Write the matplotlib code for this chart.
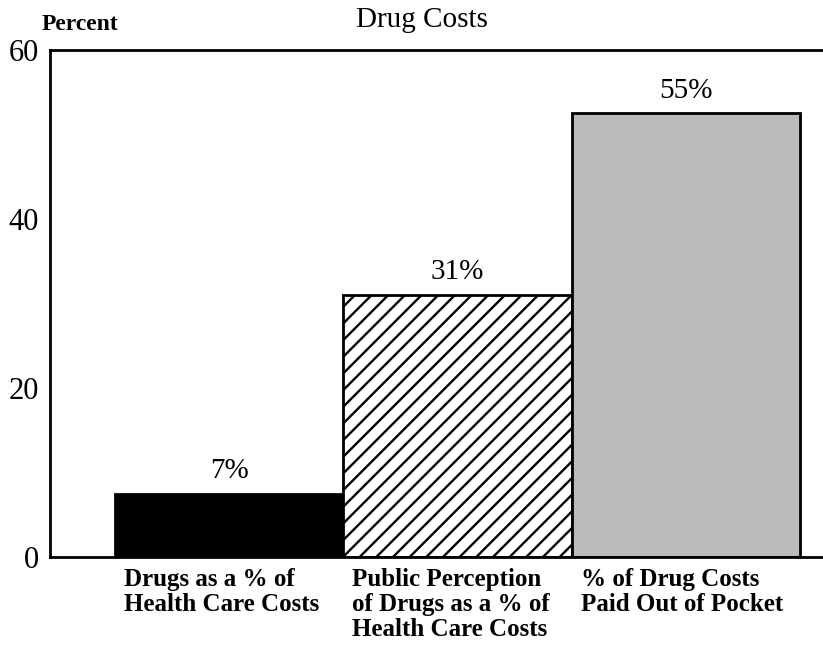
import matplotlib
matplotlib.use("Agg")
import matplotlib.pyplot as plt
from matplotlib.transforms import ScaledTranslation

categories = ["Drugs as a % of\nHealth Care Costs",
              "Public Perception\nof Drugs as a % of\nHealth Care Costs",
              "% of Drug Costs\nPaid Out of Pocket"]
heights = [7.5, 31.0, 52.5]
value_labels = ["7%", "31%", "55%"]
yticks = [0, 20, 40, 60]

plt.rcParams['font.family'] = ['Liberation Serif', 'DejaVu Serif']
plt.rcParams['hatch.linewidth'] = 1.7

fig = plt.figure(figsize=(8.23, 6.46), dpi=100)
ax = fig.add_axes([50/823, (646-557)/646, 1 - 50/823, (557-50)/646])

x = list(range(len(categories)))
styles = [dict(color='black', edgecolor='black'),
          dict(facecolor='white', edgecolor='black', hatch='//'),
          dict(facecolor='#bababa', edgecolor='black')]
for xi, h, st in zip(x, heights, styles):
    ax.bar(xi, h, width=1.0, linewidth=2, **st)

for xi, h, lab in zip(x, heights, value_labels):
    ax.annotate(lab, (xi, h), xytext=(0, 7), textcoords='offset points',
                ha='center', va='bottom', fontsize=21)

ax.set_xlim(-0.785, 2.6)
ax.set_ylim(0, 60)
ax.set_yticks(yticks)
ax.set_yticklabels([str(v) for v in yticks], fontsize=22)
ax.tick_params(axis='y', length=0, pad=8)
ax.set_xticks([xi - 0.5 for xi in x])
ax.set_xticklabels(categories, fontsize=18, fontweight='bold', ha='left',
                   va='top', linespacing=1.1)
ax.tick_params(axis='x', length=0, pad=8)
off = ScaledTranslation(9/100, 0, fig.dpi_scale_trans)
for t in ax.get_xticklabels():
    t.set_transform(t.get_transform() + off)

for s in ['left', 'top', 'bottom']:
    ax.spines[s].set_linewidth(2)
ax.spines['right'].set_visible(False)

fig.text(422/823, 1 - 20/646, "Drug Costs", ha='center', va='center', fontsize=21)
fig.text(42/823, 1 - 25/646, "Percent", ha='left', va='center', fontsize=17, fontweight='bold')

fig.savefig("out.png", dpi=100)
